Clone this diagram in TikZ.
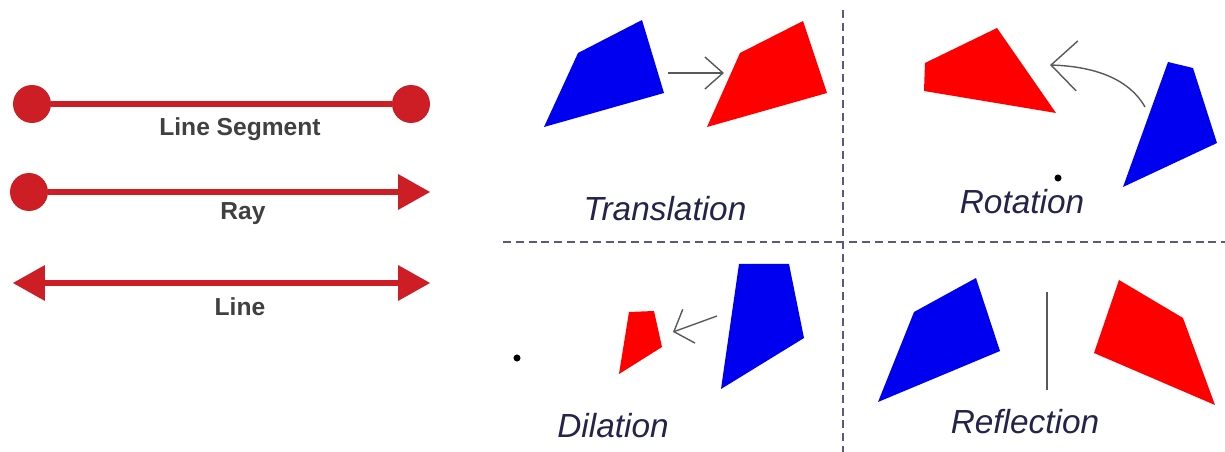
\documentclass[tikz,border=0pt]{standalone}
\usepackage{fontspec}
\setmainfont{Liberation Sans}
\usetikzlibrary{arrows.meta, positioning}
\definecolor{linered}{RGB}{204,30,36}
\definecolor{txtgray}{RGB}{64,64,64}
\definecolor{shapeblue}{RGB}{0,0,240}
\definecolor{shapered}{RGB}{255,0,0}
\definecolor{capnavy}{RGB}{35,35,75}
\definecolor{gridgray}{RGB}{90,90,125}

\begin{document}
\begin{tikzpicture}[x=0.02cm, y=-0.02cm,
    geo/.style={line width=3.4pt, linered},
    endpt/.style={circle, fill=linered, inner sep=0pt, minimum size=0.76cm},
    geolabel/.style={font=\fontsize{14}{16}\selectfont\bfseries, text=txtgray},
    caption/.style={font=\fontsize{19}{22}\selectfont\itshape, text=capnavy},
    move/.style={gray!70!black, line width=0.8pt},
    sep/.style={gridgray, line width=1pt, dash pattern=on 4.5pt off 2.8pt}]
    \useasboundingbox (0,0) rectangle (1225,452);

    % Left: segment, ray, line
    \node[endpt] (sa) at (32,104) {};
    \node[endpt] (sb) at (411,104) {};
    \draw[geo] (sa) -- (sb);
    \node[geolabel] (seglabel) at (240,129) {Line Segment};

    \node[endpt] (ra) at (29,192) {};
    \coordinate (rb) at (430,192);
    \draw[geo, -{Triangle[length=0.64cm, width=0.72cm, line width=0pt]}] (ra) -- (rb);
    \node[geolabel] (raylabel) at (243,214) {Ray};

    \coordinate (la) at (13,283);
    \coordinate (lb) at (430,283);
    \draw[geo, {Triangle[length=0.64cm, width=0.72cm, line width=0pt]}-{Triangle[length=0.64cm, width=0.72cm, line width=0pt]}] (la) -- (lb);
    \node[geolabel] (linelabel) at (240,307) {Line};

    % Right: the four transformations
    \coordinate (vtop) at (843,10);
    \coordinate (vbot) at (843,452);
    \coordinate (hleft) at (503,242);
    \coordinate (hright) at (1225,242);
    \draw[sep] (vtop) -- (vbot);
    \draw[sep] (hleft) -- (hright);

    % translation
    \fill[shapeblue] (578,53) -- (642,20) -- (664,93) -- (544,127) -- cycle;
    \fill[shapered] (740,53) -- (803,21) -- (827,93) -- (707,127) -- cycle;
    \coordinate (ta) at (668,73);
    \coordinate (tb) at (724,73);
    \draw[move, -{Straight Barb[length=0.36cm, width=0.64cm]}] (ta) -- (tb);
    \node[caption] (trans) at (665,209) {Translation};

    % rotation
    \fill[shapered] (925,63) -- (997,28) -- (1056,113) -- (924,91) -- cycle;
    \fill[shapeblue] (1168,62) -- (1193,68) -- (1217,143) -- (1123,187) -- cycle;
    \coordinate (rota) at (1145,107);
    \coordinate (rotb) at (1050,65);
    \draw[move, -{Straight Barb[length=0.52cm, width=1cm]}] (rota) .. controls (1125,72) and (1080,66) .. (rotb);
    \fill (1058,178) circle (2pt);
    \node[caption] (rot) at (1022,202) {Rotation};

    % dilation
    \fill[shapered] (629,312) -- (654,311) -- (662,347) -- (619,374) -- cycle;
    \fill[shapeblue] (739,264) -- (789,264) -- (804,338) -- (721,389) -- cycle;
    \coordinate (da) at (717,316);
    \coordinate (db) at (673,332);
    \draw[move, -{Straight Barb[length=0.32cm, width=0.72cm]}] (da) -- (db);
    \fill (517,358) circle (2pt);
    \node[caption] (dil) at (613,426) {Dilation};

    % reflection
    \fill[shapeblue] (914,312) -- (976,278) -- (1000,351) -- (878,402) -- cycle;
    \fill[shapered] (1119,280) -- (1183,318) -- (1215,405) -- (1094,353) -- cycle;
    \coordinate (mtop) at (1047,292);
    \coordinate (mbot) at (1047,390);
    \draw[move] (mtop) -- (mbot);
    \node[caption] (refl) at (1025,422) {Reflection};
\end{tikzpicture}
\end{document}
